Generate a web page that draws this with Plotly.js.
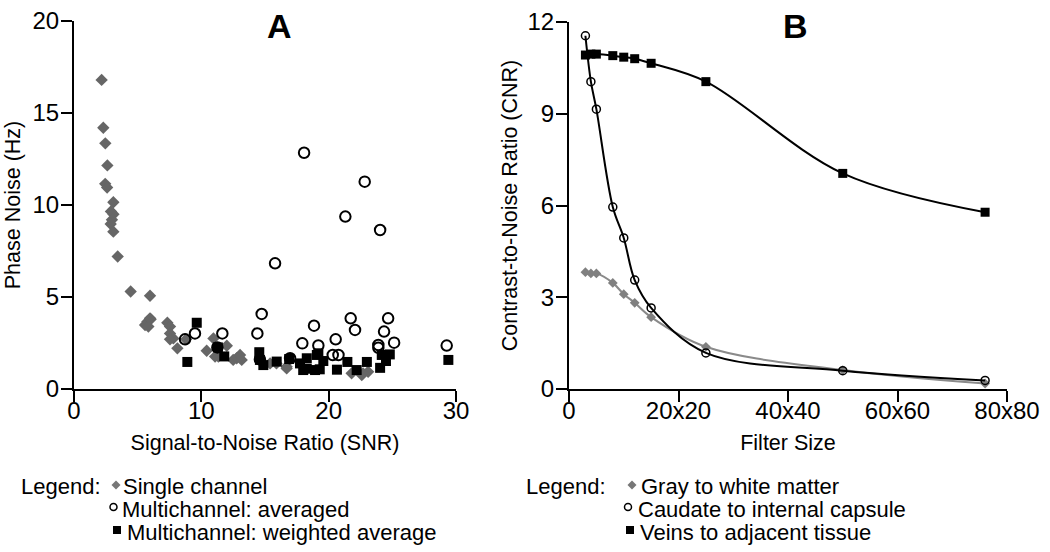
<!DOCTYPE html>
<html>
<head>
<meta charset="utf-8">
<script src="https://cdn.plot.ly/plotly-3.0.1.min.js"></script>
<style>html,body{margin:0;padding:0;background:#fff}#chart{width:1050px;height:552px}</style>
</head>
<body>
<div id="chart"></div>
<script>
// ---------- Panel A data ----------
var singleX = [2.17,2.3,2.46,2.62,2.45,2.6,3.09,2.9,3.1,2.98,2.88,3.09,3.43,4.45,5.97,5.58,5.76,6.02,5.84,5.97,7.33,7.54,7.54,7.8,7.54,8.12,8.8,10.42,10.95,11.08,11.34,12.0,12.5,12.78,13.04,13.17,15.4,15.9,16.7,16.7,21.8,22.6,23.1,22.7];
var singleY = [16.8,14.2,13.35,12.15,11.15,10.95,10.15,9.65,9.5,9.2,8.97,8.55,7.2,5.3,5.07,3.48,3.66,3.79,3.39,3.84,3.6,3.39,3.02,2.75,2.7,2.21,2.7,2.08,2.75,1.76,1.76,2.35,1.58,1.67,1.85,1.58,1.39,1.39,1.21,1.12,0.85,0.76,0.94,0.85];

var avgX = [8.72,9.5,11.26,11.65,14.4,14.74,14.6,15.79,16.97,17.93,18.07,18.85,19.19,20.55,20.32,20.77,21.31,21.73,22.07,22.83,23.9,23.9,24.04,24.35,24.67,25.14,29.27];
var avgY = [2.7,3.02,2.26,3.02,3.02,4.08,1.61,6.83,1.67,2.48,12.84,3.44,2.37,2.7,1.85,1.85,9.37,3.84,3.21,11.27,2.39,2.24,8.64,3.12,3.84,2.52,2.36];

var wavgX = [8.9,9.64,11.3,11.8,14.55,14.6,14.87,15.92,16.9,17.75,18.0,18.28,18.28,18.93,19.07,19.19,19.3,19.58,20.65,21.47,22.2,23.0,24.04,24.17,24.8,24.5,29.4];
var wavgY = [1.47,3.6,2.26,1.77,2.0,1.58,1.3,1.49,1.63,1.39,1.03,1.67,1.1,1.03,1.85,1.94,1.07,1.52,1.05,1.47,1.03,1.47,1.15,1.85,1.88,1.52,1.58];

// ---------- Panel B data ----------
var filterSize = [3,4,5,8,10,12,15,25,50,76];
var grayWhite = [3.82,3.78,3.78,3.47,3.1,2.82,2.35,1.38,0.62,0.18];
var caudate   = [11.55,10.05,9.15,5.95,4.94,3.56,2.65,1.18,0.6,0.28];
var veins     = [10.92,10.95,10.95,10.9,10.85,10.8,10.65,10.05,7.05,5.78];

var xTicksB = [0,20,40,60,80];
var xTickTextB = ['0','20x20','40x40','60x60','80x80'];

var legendA = ['Single channel','Multichannel: averaged','Multichannel: weighted average'];
var legendB = ['Gray to white matter','Caudate to internal capsule','Veins to adjacent tissue'];

var W = 1050, H = 552;
function px(x){return x/W;}
function py(y){return 1 - y/H;}

var tickFont = {family:'Liberation Sans, Arial, sans-serif', size:24, color:'#000'};
var titleFont = {family:'Liberation Sans, Arial, sans-serif', size:21.5, color:'#000'};
var baseAxis = {showline:true, linecolor:'#000', linewidth:2, ticks:'outside', ticklen:11, tickwidth:2, tickcolor:'#000',
  showgrid:false, zeroline:false, tickfont:tickFont, fixedrange:true};

var traces = [
  {x:singleX, y:singleY, xaxis:'x', yaxis:'y', mode:'markers', type:'scatter',
   marker:{symbol:'diamond', size:9.5, color:'#666666'}},
  {x:avgX, y:avgY, xaxis:'x', yaxis:'y', mode:'markers', type:'scatter',
   marker:{symbol:'circle-open', size:10.5, color:'#000', line:{width:2, color:'#000'}}},
  {x:wavgX, y:wavgY, xaxis:'x', yaxis:'y', mode:'markers', type:'scatter',
   marker:{symbol:'square', size:10, color:'#000'}},
  {x:filterSize, y:grayWhite, xaxis:'x2', yaxis:'y2', mode:'lines+markers', type:'scatter',
   line:{shape:'spline', smoothing:1, color:'#8a8a8a', width:2},
   marker:{symbol:'diamond', size:7.5, color:'#808080'}},
  {x:filterSize, y:caudate, xaxis:'x2', yaxis:'y2', mode:'lines+markers', type:'scatter',
   line:{shape:'spline', smoothing:1, color:'#000', width:2},
   marker:{symbol:'circle-open', size:8, color:'#000', line:{width:1.5, color:'#000'}}},
  {x:filterSize, y:veins, xaxis:'x2', yaxis:'y2', mode:'lines+markers', type:'scatter',
   line:{shape:'spline', smoothing:1, color:'#000', width:2},
   marker:{symbol:'square', size:9, color:'#000'}}
];

var legFont = {family:'Liberation Sans, Arial, sans-serif', size:22, color:'#000'};
var annotations = [
  {text:'<b>A</b>', x:px(279), y:py(26), xref:'paper', yref:'paper', showarrow:false, xanchor:'center', yanchor:'middle',
   font:{family:'Liberation Sans, Arial, sans-serif', size:34, color:'#000'}},
  {text:'<b>B</b>', x:px(795), y:py(26), xref:'paper', yref:'paper', showarrow:false, xanchor:'center', yanchor:'middle',
   font:{family:'Liberation Sans, Arial, sans-serif', size:34, color:'#000'}},
  {text:'Legend:', x:px(20), y:py(486), xref:'paper', yref:'paper', showarrow:false, xanchor:'left', yanchor:'middle', font:legFont, borderpad:0},
  {text:'Legend:', x:px(525), y:py(486), xref:'paper', yref:'paper', showarrow:false, xanchor:'left', yanchor:'middle', font:legFont, borderpad:0}
];
var rowsY = [486, 509, 532];
var textXA = [122, 121, 126];
var textXB = [640, 637, 639];
for (var i=0;i<3;i++){
  annotations.push({text:legendA[i], x:px(textXA[i]), y:py(rowsY[i]), xref:'paper', yref:'paper', showarrow:false, xanchor:'left', yanchor:'middle', font:legFont, borderpad:0});
  annotations.push({text:legendB[i], x:px(textXB[i]), y:py(rowsY[i]), xref:'paper', yref:'paper', showarrow:false, xanchor:'left', yanchor:'middle', font:legFont, borderpad:0});
}

// legend symbols as shapes
function diamondPath(cx, cy, r){
  return 'M'+px(cx-r)+','+py(cy)+' L'+px(cx)+','+py(cy-r)+' L'+px(cx+r)+','+py(cy)+' L'+px(cx)+','+py(cy+r)+' Z';
}
var symY = [485, 507, 530];
var shapes = [
  {type:'path', xref:'paper', yref:'paper', path:diamondPath(116, symY[0], 4.5), fillcolor:'#777', line:{width:0}},
  {type:'circle', xref:'paper', yref:'paper', x0:px(110), x1:px(117), y0:py(symY[1]+3.5), y1:py(symY[1]-3.5), line:{color:'#000', width:1.5}},
  {type:'rect', xref:'paper', yref:'paper', x0:px(113), x1:px(121), y0:py(symY[2]+4), y1:py(symY[2]-4), fillcolor:'#000', line:{width:0}},
  {type:'path', xref:'paper', yref:'paper', path:diamondPath(632, symY[0], 4.5), fillcolor:'#777', line:{width:0}},
  {type:'circle', xref:'paper', yref:'paper', x0:px(624.5), x1:px(631.5), y0:py(symY[1]+3.5), y1:py(symY[1]-3.5), line:{color:'#000', width:1.5}},
  {type:'rect', xref:'paper', yref:'paper', x0:px(626), x1:px(634), y0:py(symY[2]+4), y1:py(symY[2]-4), fillcolor:'#000', line:{width:0}}
];

var layout = {
  width:W, height:H, margin:{l:0,r:0,t:0,b:0}, paper_bgcolor:'#fff', plot_bgcolor:'#fff', showlegend:false,
  xaxis: Object.assign({}, baseAxis, {domain:[px(74), px(456)], range:[0,30], tickvals:[0,10,20,30], anchor:'y', ticklabelstandoff:-12,
    title:{text:'Signal-to-Noise Ratio (SNR)', font:titleFont, standoff:12}}),
  yaxis: Object.assign({}, baseAxis, {domain:[py(389), py(21)], range:[0,20], tickvals:[0,5,10,15,20], anchor:'x', ticklabelstandoff:-3,
    title:{text:'Phase Noise (Hz)', font:titleFont, standoff:6}}),
  xaxis2: Object.assign({}, baseAxis, {domain:[px(569), px(1007)], range:[0,80], tickvals:xTicksB, ticktext:xTickTextB, anchor:'y2', ticklabelstandoff:-12,
    title:{text:'Filter Size', font:titleFont, standoff:12}}),
  yaxis2: Object.assign({}, baseAxis, {domain:[py(389), py(22)], range:[0,12], tickvals:[0,3,6,9,12], anchor:'x2', ticklabelstandoff:-3,
    title:{text:'Contrast-to-Noise Ratio (CNR)', font:titleFont, standoff:4}}),
  annotations:annotations, shapes:shapes
};

Plotly.newPlot('chart', traces, layout, {displayModeBar:false, staticPlot:true});
</script>
</body>
</html>
